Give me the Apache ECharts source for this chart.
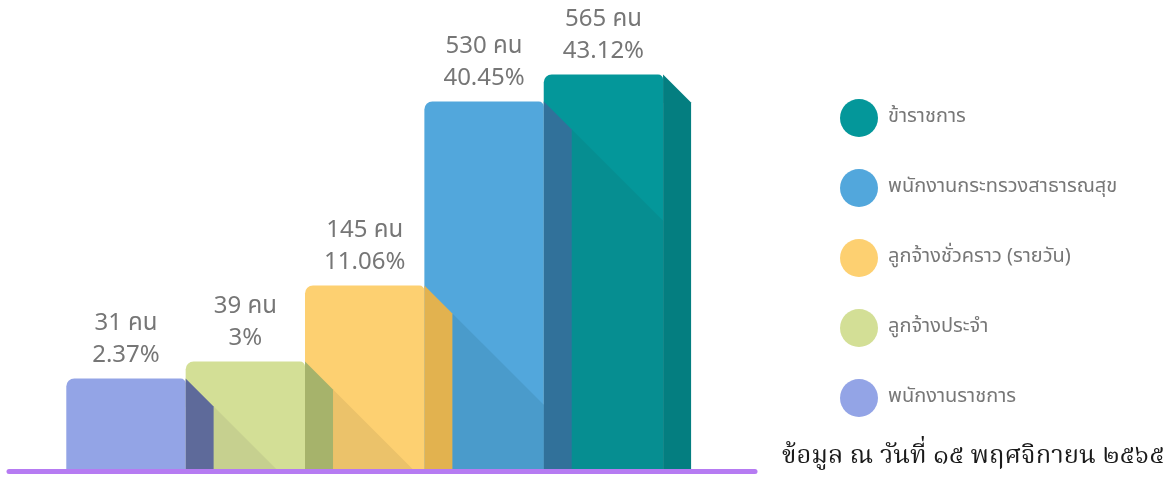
<!DOCTYPE html>
<html>
<head>
<meta charset="utf-8">
<script src="https://cdn.jsdelivr.net/npm/echarts@6/dist/echarts.min.js"></script>
<style>
  html, body { margin: 0; padding: 0; background: #ffffff; }
  #chart { width: 1172px; height: 477px; }
</style>
</head>
<body>
<div id="chart"></div>
<script>
// ---- data (bar order, left to right) ----
const categories = ['พนักงานราชการ', 'ลูกจ้างประจำ', 'ลูกจ้างชั่วคราว (รายวัน)', 'พนักงานกระทรวงสาธารณสุข', 'ข้าราชการ'];
const counts = [31, 39, 145, 530, 565];
const percents = [2.37, 3, 11.06, 40.45, 43.12];
// drawn bar heights (infographic, not proportional to counts)
const barHeights = [93, 110, 186, 370, 397];
const footnote = 'ข้อมูล ณ วันที่ ๑๕ พฤศจิกายน ๒๕๖๕';

// ---- styles ----
const frontColors  = ['#93a4e6', '#d3df96', '#fdd071', '#52a7dc', '#04979a'];
const sideColors   = ['#5e6a9a', '#a6b36b', '#e2b24f', '#31719a', '#047e80'];
const shadowColors = ['#8494cf', '#c6d08f', '#ebc26a', '#4a9bcb', '#068e91'];
const DEPTH = 28;
const labelFont = "'Noto Sans Thai', 'Noto Sans', sans-serif";
const noteFont = "'Noto Serif Thai', 'Noto Sans Thai Looped', 'Noto Sans Thai', sans-serif";

const series = categories.map(function (name, i) {
  return {
    type: 'custom',
    name: name,
    z: 10 - i,
    itemStyle: { color: frontColors[i] },
    data: [[i, barHeights[i], i > 0 ? barHeights[i - 1] : 0, counts[i], percents[i]]],
    renderItem: function (params, api) {
      const idx = api.value(0), h = api.value(1), ph = api.value(2);
      const p0 = api.coord([idx, 0]);
      const p1 = api.coord([idx + 1, 0]);
      const left = p0[0], right = p1[0], base = p0[1] - 2.5;
      const top = api.coord([idx, h])[1];
      const children = [];
      children.push({
        type: 'rect',
        shape: { x: left, y: top, width: right - left, height: base - top, r: [8, 5, 0, 0] },
        style: { fill: frontColors[idx] }
      });
      if (ph > 0) {
        const prevTop = api.coord([idx, ph])[1];
        const sx = left + DEPTH, sy = prevTop + DEPTH;
        const xb = sx + (base - sy);
        const pts = xb <= right
          ? [[sx, sy], [xb, base], [sx, base]]
          : [[sx, sy], [right, sy + (right - sx)], [right, base], [sx, base]];
        children.push({ type: 'polygon', shape: { points: pts }, style: { fill: shadowColors[idx] } });
      }
      children.push({
        type: 'polygon',
        shape: { points: [[right, top], [right + DEPTH, top + DEPTH], [right + DEPTH, base], [right, base]] },
        style: { fill: sideColors[idx] }
      });
      children.push({
        type: 'text',
        x: (left + right) / 2,
        y: top - 5,
        style: {
          text: api.value(3) + ' คน\n' + api.value(4) + '%',
          fill: '#767676',
          fontSize: 24,
          fontFamily: labelFont,
          align: 'center',
          verticalAlign: 'bottom',
          lineHeight: 32
        }
      });
      return { type: 'group', children: children };
    }
  };
});

const chart = echarts.init(document.getElementById('chart'), null, { renderer: 'canvas' });
chart.setOption({
  backgroundColor: '#ffffff',
  animation: false,
  title: {
    text: footnote,
    left: 782,
    top: 446,
    padding: 0,
    textStyle: { fontSize: 25.5, fontWeight: 'normal', color: '#1a1a1a', fontFamily: noteFont }
  },
  legend: {
    orient: 'vertical',
    left: 840,
    top: 99,
    padding: 0,
    icon: 'circle',
    itemWidth: 38,
    itemHeight: 38,
    itemGap: 32,
    data: categories.slice().reverse(),
    textStyle: { fontSize: 20, color: '#777777', fontFamily: labelFont, padding: [0, 0, 0, 5] }
  },
  grid: { left: 9, right: 417, top: 71.5, bottom: 5.5 },
  xAxis: {
    type: 'value',
    min: -0.48,
    max: 5.77,
    axisLine: { show: true, lineStyle: { color: '#b67bf2', width: 5 } },
    axisTick: { show: false },
    axisLabel: { show: false },
    splitLine: { show: false }
  },
  yAxis: {
    type: 'value',
    min: 0,
    max: 400,
    show: false,
    splitLine: { show: false }
  },
  series: series
});
</script>
</body>
</html>
